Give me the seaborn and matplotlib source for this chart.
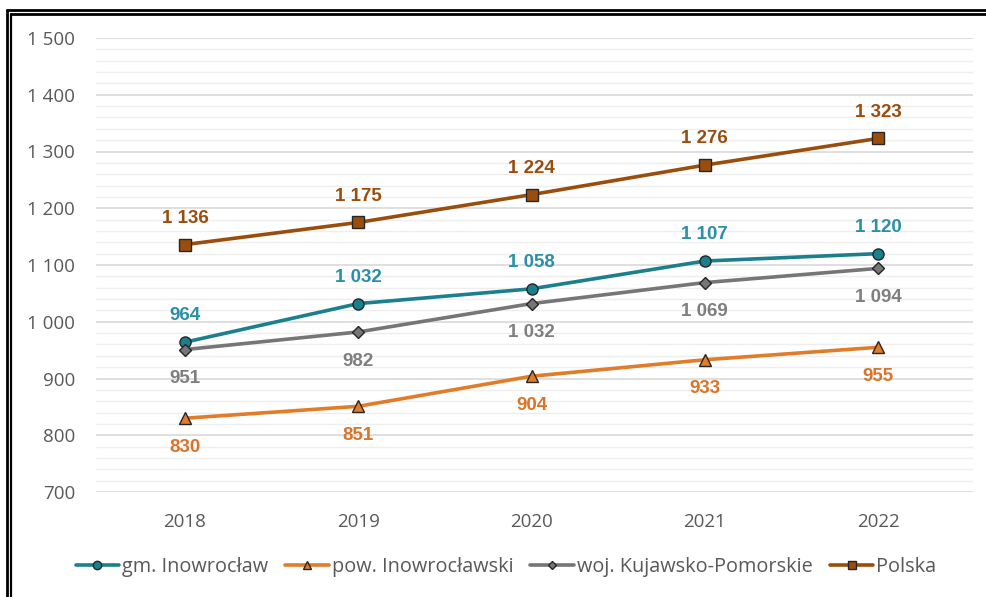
import matplotlib
matplotlib.use("Agg")
import matplotlib.pyplot as plt
from matplotlib.lines import Line2D
from matplotlib.ticker import MultipleLocator, FuncFormatter
import seaborn as sns
import pandas as pd

years = ["2018", "2019", "2020", "2021", "2022"]
gm_inowroclaw = [964, 1032, 1058, 1107, 1120]
pow_inowroclawski = [830, 851, 904, 933, 955]
woj_kp = [951, 982, 1032, 1069, 1094]
polska = [1136, 1175, 1224, 1276, 1323]

series_names = ["gm. Inowrocław", "pow. Inowrocławski", "woj. Kujawsko-Pomorskie", "Polska"]
series_values = [gm_inowroclaw, pow_inowroclawski, woj_kp, polska]
colors = ["#1B7F8E", "#E07C2A", "#767676", "#9A4E0E"]
label_colors = ["#2A8FA8", "#D9742A", "#7F7F7F", "#9A4E0E"]
markers = ["o", "^", "D", "s"]
marker_sizes = [8, 8, 6, 8]
label_offsets = [19, -21, -21, 19]  # points above(+)/below(-)

rows = []
for name, vals in zip(series_names, series_values):
    for i, (y, v) in enumerate(zip(years, vals)):
        rows.append({"idx": i, "year": y, "value": v, "series": name})
df = pd.DataFrame(rows)

sns.set_theme(style="white")
plt.rcParams["font.family"] = ["Open Sans", "DejaVu Sans"]

fig = plt.figure(figsize=(9.87, 5.97), dpi=100)
ax = fig.add_axes([96 / 987, 105 / 597, 877 / 987, 454 / 597])

for k, name in enumerate(series_names):
    sub = df[df["series"] == name]
    sns.lineplot(data=sub, x="idx", y="value", ax=ax, color=colors[k], lw=2.6,
                 marker=markers[k], markersize=marker_sizes[k],
                 markerfacecolor=colors[k], markeredgecolor="#262626",
                 markeredgewidth=1.0, label=name, zorder=3 + k)
    for i, v in zip(sub["idx"], sub["value"]):
        txt = f"{v:,}".replace(",", " ")
        ax.annotate(txt, (i, v), xytext=(0, label_offsets[k]), textcoords="offset points",
                    ha="center", va="center", fontsize=13.5, fontweight="bold",
                    color=label_colors[k], family=["Liberation Sans", "DejaVu Sans"])

ax.set_xlim(-0.514, 4.548)
ax.set_ylim(700, 1500)
ax.yaxis.set_major_locator(MultipleLocator(100))
ax.yaxis.set_minor_locator(MultipleLocator(20))
ax.yaxis.set_major_formatter(FuncFormatter(lambda v, p: f"{int(v):,}".replace(",", " ")))
ax.set_xticks(range(len(years)))
ax.set_xticklabels(years)
ax.grid(which="major", axis="y", color="#D9D9D9", lw=1.2)
ax.grid(which="minor", axis="y", color="#EEEEEE", lw=1.0)
ax.grid(axis="x", visible=False)
ax.set_axisbelow(True)
for s in ax.spines.values():
    s.set_visible(False)
ax.tick_params(axis="both", which="both", length=0, colors="#595959", labelsize=13.5)
ax.tick_params(axis="y", pad=15)
ax.tick_params(axis="x", pad=15)
ax.set_xlabel("")
ax.set_ylabel("")

handles, labels = ax.get_legend_handles_labels()
leg = ax.legend(handles, labels, loc="center", bbox_to_anchor=(506 / 987, 30 / 597),
                bbox_transform=fig.transFigure, ncol=4, frameon=False, fontsize=14.3,
                handlelength=2.2, handletextpad=0.15, columnspacing=0.85, markerscale=0.75)
for t in leg.get_texts():
    t.set_color("#595959")

# double frame
for x in (7.5 / 987, 10.8 / 987):
    fig.add_artist(Line2D([x, x], [0, 1 - (10 if x < 0.009 else 14) / 597], transform=fig.transFigure,
                          color="black", lw=2.0 if x < 0.009 else 1.6))
for y, x0 in ((10 / 597, 7.5 / 987), (14 / 597, 10.8 / 987)):
    fig.add_artist(Line2D([x0, 1], [1 - y, 1 - y], transform=fig.transFigure,
                          color="black", lw=2.0))

fig.savefig("out.png", dpi=100)
